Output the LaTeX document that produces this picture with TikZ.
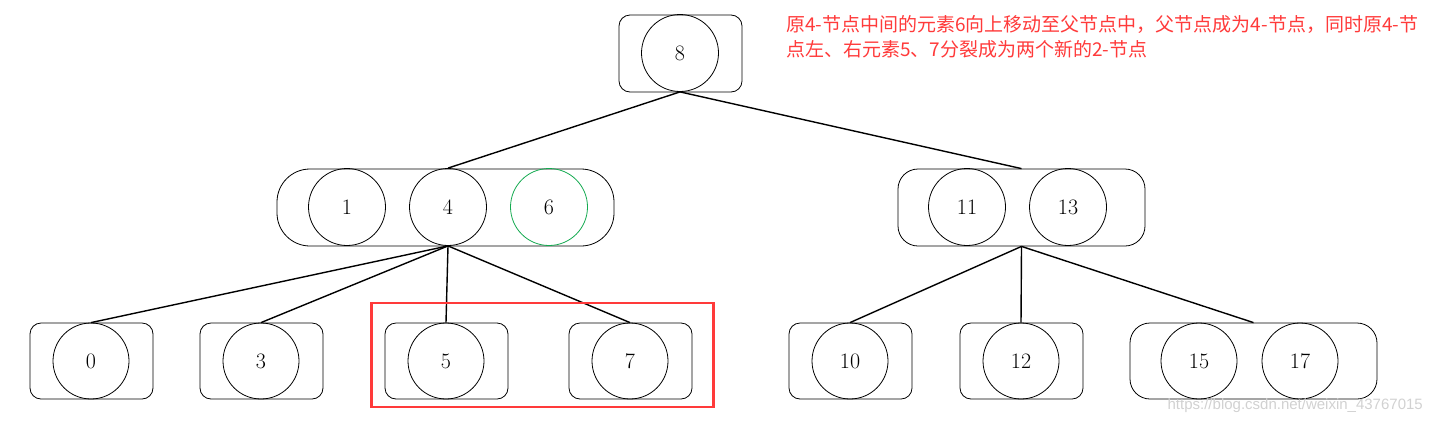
\documentclass[tikz,border=0pt]{standalone}
\usepackage{fontspec}
\newfontfamily\cjk{Noto Sans CJK SC}
\newfontfamily\wmfont{Liberation Sans}
\definecolor{notered}{RGB}{255,58,58}
\definecolor{newgreen}{RGB}{20,170,80}

\begin{document}
\begin{tikzpicture}[
    x = 1pt, y = -1pt,
    every node/.style = {inner sep = 0pt, font = \fontsize{22}{26}\selectfont},
    keynode/.style = {draw, circle, minimum size = 77pt, line width = 0.8pt},
    onebox/.style = {draw, rectangle, rounded corners = 11pt, line width = 0.8pt,
      minimum width = 123pt, minimum height = 76pt},
    twobox/.style = {onebox, rounded corners = 20pt, minimum width = 247pt},
    threebox/.style = {onebox, rounded corners = 33pt, minimum width = 337pt},
    link/.style = {line width = 1.4pt}
  ]
  \useasboundingbox (0,0) rectangle (1431,421);
  % root
  \node[onebox, minimum height = 77pt] (Root) at (680.5,53.5) {};
  \node[keynode] (K8) at (680,53) {8};
  % second level
  \node[threebox, minimum height = 77pt] (Left) at (445.5,207.5) {};
  \node[keynode] (K1) at (347,207) {1};
  \node[keynode] (K4) at (448,207) {4};
  \node[keynode, draw = newgreen] (K6) at (549,207) {6};
  \node[twobox, minimum height = 77pt] (Right) at (1021.5,207.5) {};
  \node[keynode] (K11) at (967,207) {11};
  \node[keynode] (K13) at (1068,207) {13};
  % leaves
  \foreach \name/\cx/\key in {A/91.5/0, B/261.5/3, C/446.5/5, D/630.5/7,
      E/850.5/10, F/1021.5/12} {
    \node[onebox] (\name) at (\cx,361) {};
    \node[keynode, minimum size = 76pt] (K\key) at (\cx-0.5,361) {\key};
  }
  \node[twobox] (G) at (1253.5,361) {};
  \node[keynode, minimum size = 76pt] (K15) at (1199,361) {15};
  \node[keynode, minimum size = 76pt] (K17) at (1300,361) {17};
  % links
  \draw[link] (K8.south) -- (K4.north);
  \draw[link] (K8.south) -- (Right.north);
  \foreach \child in {K0, K3, K5, K7}
    \draw[link] (K4.south) -- (\child.north);
  \foreach \child in {K10, K12, G}
    \draw[link] (Right.south) -- (\child.north);
  % split marker
  \node[draw = notered, line width = 2.6pt, minimum width = 342pt,
    minimum height = 104pt] (Split) at (542.5,355) {};
  \node[anchor = north west, align = left, text = notered,
    font = \cjk\fontsize{19}{25}\selectfont] (Note) at (786,15)
    {原4-节点中间的元素6向上移动至父节点中，父节点成为4-节点，同时原4-节\\
     点左、右元素5、7分裂成为两个新的2-节点};
  \node[anchor = base east, text = black!18,
    font = \wmfont\fontsize{15}{18}\selectfont] (Mark) at (1423,409)
    {https://blog.csdn.net/weixin\_43767015};
\end{tikzpicture}
\end{document}
